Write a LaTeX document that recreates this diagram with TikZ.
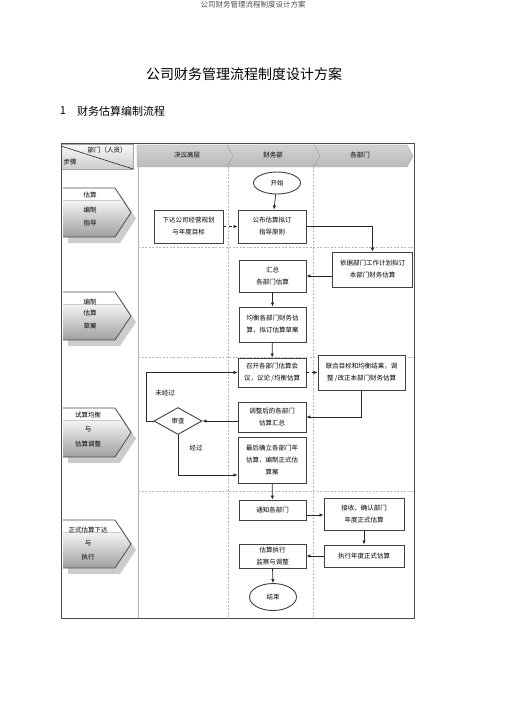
\documentclass[tikz,border=0pt]{standalone}
\usepackage{fontspec}
\setmainfont{Noto Sans CJK SC}
\usetikzlibrary{shapes.geometric,arrows.meta}

\begin{document}
\begin{tikzpicture}[x=1pt, y=-1pt,
    box/.style={draw=black!75, line width=0.9pt, fill=white, align=center, inner sep=1pt,
        font=\fontsize{6.5}{12}\selectfont},
    endbox/.style={ellipse, draw=black!75, line width=0.9pt, fill=white, inner sep=0pt,
        minimum width=47pt, font=\fontsize{6.5}{8}\selectfont},
    arr/.style={draw=black!85, line width=0.7pt, -{Latex[length=4pt,width=3.5pt]}},
    lane/.style={gray!55, dash pattern=on 2pt off 1.5pt, line width=0.5pt},
    lbl/.style={font=\fontsize{6.5}{8}\selectfont},
    stagetext/.style={align=center, font=\fontsize{6.5}{13}\selectfont}]
    % Page size with margins
    \useasboundingbox (0,0) rectangle (505,714);

    % Page heading, title and section
    \node[font=\fontsize{7.5}{9}\selectfont, text=black!70] (head) at (253,5) {公司财务管理流程制度设计方案};
    \node[font=\fontsize{14}{16}\selectfont] (title) at (244,74) {公司财务管理流程制度设计方案};
    \node[font=\fontsize{11}{13}\selectfont] (secno) at (63,111) {1};
    \node[font=\fontsize{11}{13}\selectfont] (sec) at (121,111) {财务估算编制流程};

    % Frame and lanes
    \draw[gray!60, line width=0.6pt] (138,167) -- (138,618);
    \foreach \x in {228,313}
        \draw[lane] (\x,167) -- (\x,618);
    \foreach \y in {247,357,491}
        \draw[lane] (138,\y) -- (414,\y);

    % Corner cell of the header
    \shade[top color=gray!5, bottom color=gray!40, draw=gray!70] (61,144) rectangle (133,169);
    \draw[gray!30!black, line width=0.6pt] (61,146) -- (133,169);
    \node[lbl] (dept) at (107,150) {部门（人员）};
    \node[lbl] (steps) at (70,162) {步骤};

    % Header chevrons
    \foreach \l/\r/\n in {137/227/0, 227/314/6, 314/407/6}
        \shade[top color=gray!35, middle color=gray!8, bottom color=gray!55, draw=gray!70]
            (\l,145) -- (\r,145) -- (\r+6,156) -- (\r,167) -- (\l,167) -- (\l+\n,156) -- cycle;
    \node[lbl] (hdtop) at (187,155) {决议高层};
    \node[lbl] (hdfin) at (273,155) {财务部};
    \node[lbl] (hddep) at (360,155) {各部门};

    % Stage arrows on the left
    \foreach \t/\b in {188/237, 292/340, 408/457, 520/568} {
        \pgfmathsetmacro{\m}{(\t+\b)/2}
        \fill[gray!40] (68,\t+6) -- (120,\t+6) -- (136,\m+6) -- (120,\b+6) -- (68,\b+6) -- cycle;
        \fill[white] (63,\t) -- (115,\t) -- (131,\m) -- (115,\b) -- (63,\b) -- cycle;
        \begin{scope}
            \clip (63,\t) -- (115,\t) -- (131,\m) -- (115,\b) -- (63,\b) -- cycle;
            \shade[top color=gray!8, bottom color=gray!75] (63,\t+12) rectangle (132,\b);
        \end{scope}
        \draw[gray!40] (63,\t+12) -- (121,\t+12);
        \draw[black!70, line width=0.8pt] (63,\t) -- (115,\t) -- (131,\m) -- (115,\b) -- (63,\b);
    }
    \node[stagetext] (st1a) at (90,195) {估算};
    \node[stagetext] (st1b) at (90,216.5) {编制\\指导};
    \node[stagetext] (st2a) at (90,302) {编制};
    \node[stagetext] (st2b) at (90,320) {估算\\草案};
    \node[stagetext] (st3a) at (88,415.5) {试算均衡};
    \node[stagetext, font=\fontsize{6.5}{15}\selectfont] (st3b) at (88,436.5) {与\\估算调整};
    \node[stagetext] (st4a) at (88,530) {正式估算下达};
    \node[stagetext, font=\fontsize{6.5}{14}\selectfont] (st4b) at (88,550) {与\\执行};

    % Outer frame
    \draw[black!70, line width=1pt] (61,144) rectangle (414,618);

    % Flow nodes
    \node[endbox, minimum height=22pt] (start) at (277,183) {开始};
    \node[box, minimum width=69pt, minimum height=33pt] (issue) at (188.5,226.5) {下达公司经营规划\\与年度目标};
    \node[box, minimum width=68pt, minimum height=33pt] (rules) at (272,226.5) {公布估算拟订\\指导原则};
    \node[box, minimum width=80pt, minimum height=35pt] (deptplan) at (372.5,269.5) {依据部门工作计划拟订\\本部门财务估算};
    \node[box, minimum width=67pt, minimum height=32pt] (collect) at (272.5,276) {汇总\\各部门估算};
    \node[box, minimum width=67pt, minimum height=35pt] (draft) at (272.5,324.5) {均衡各部门财务估\\算，拟订估算草案};
    \node[box, minimum width=68pt, minimum height=29pt] (meeting) at (272,372.5) {召开各部门估算会\\议，议论 /均衡估算};
    \node[box, minimum width=87pt, minimum height=35pt] (revise) at (361.5,372.5) {联合目标和均衡结果，调\\整 /改正本部门财务估算};
    \node[box, minimum width=68pt, minimum height=30pt] (resum) at (272,417) {调整后的各部门\\估算汇总};
    \node[diamond, draw=black!75, line width=0.9pt, fill=white, inner sep=0pt, aspect=1.8,
        minimum width=48pt, minimum height=27pt, font=\fontsize{6.5}{8}\selectfont] (check) at (178,421) {审查};
    \node[box, minimum width=68pt, minimum height=46pt] (final) at (272,460) {最后确立各部门年\\估算，编制正式估\\算案};
    \node[box, minimum width=67pt, minimum height=20pt] (notify) at (272.5,510) {通知各部门};
    \node[box, minimum width=80pt, minimum height=32pt] (receive) at (364,514) {接收、确认部门\\年度正式估算};
    \node[box, minimum width=80pt, minimum height=22pt] (execute) at (364,556) {执行年度正式估算};
    \node[box, minimum width=67pt, minimum height=24pt] (monitor) at (272.5,556) {估算执行\\监察与调整};
    \node[endbox, minimum height=27pt] (finish) at (273,597) {结束};

    % Connectors
    \draw[arr] (start) -- (rules);
    \draw[arr, dashed] (issue) -- (rules);
    \draw[arr] (rules.east) -| (deptplan.north);
    \draw[arr] (deptplan.west |- collect.east) -- (collect.east);
    \draw[arr] (collect) -- (draft);
    \draw[arr] (draft) -- (meeting);
    \draw[arr, dashed] (meeting) -- (revise);
    \draw[arr] (revise.south) |- (resum.east);
    \draw[arr] (resum.west |- check.east) -- (check.east);
    \draw[arr] (check.west) -- ++(-7,0) |- (meeting.west);
    \draw[arr] (check.south) |- ([yshift=-15pt]final.west);
    \draw[arr] (final) -- (notify);
    \draw[arr] ([yshift=-5pt]notify.east) -- ([yshift=-5pt]notify.east -| receive.west);
    \draw[arr] (receive) -- (execute);
    \draw[arr] (execute) -- (monitor);
    \draw[arr] (monitor.south) -- (finish.north);

    % Branch labels
    \node[lbl] (fail) at (165,393) {未经过};
    \node[lbl] (pass) at (196,448) {经过};
\end{tikzpicture}
\end{document}
